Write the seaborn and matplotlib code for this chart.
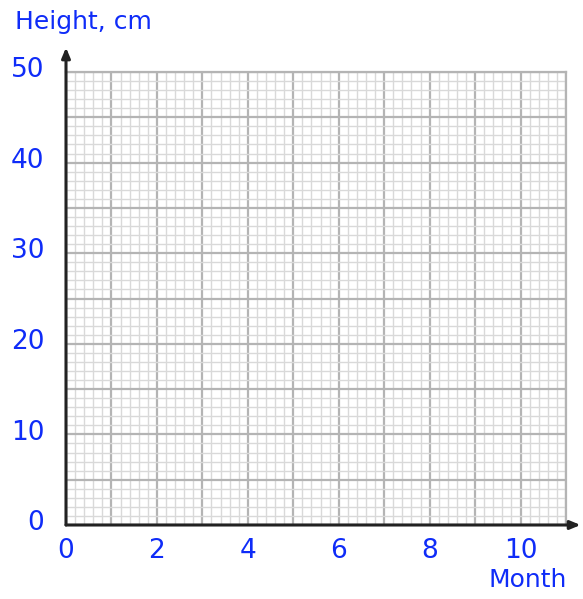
import matplotlib
matplotlib.use("Agg")
import matplotlib.pyplot as plt
import numpy as np
import seaborn as sns

# chart content: an empty grid for plotting height against month
month_ticks = [0, 2, 4, 6, 8, 10]
height_ticks = [0, 10, 20, 30, 40, 50]
month_max = 11
height_max = 50
months = []
heights = []

BLUE = "#0f2cf8"

sns.set_style("white")
plt.rcParams["font.family"] = ["DejaVu Sans"]

fig = plt.figure(figsize=(5.83, 5.99), dpi=100)
ax = fig.add_axes([66 / 583, 1 - 525 / 599, 500 / 583, 453 / 599])

sns.lineplot(x=months, y=heights, ax=ax)

ax.set_xlim(0, month_max)
ax.set_ylim(0, height_max)

# grid
ax.set_xticks(np.arange(0, month_max + 0.01, 1))
ax.set_xticks(np.arange(0, month_max + 0.01, 0.2), minor=True)
ax.set_yticks(np.arange(0, height_max + 0.01, 5))
ax.set_yticks(np.arange(0, height_max + 0.01, 1), minor=True)
ax.grid(which="minor", color="#d9d9d9", linewidth=1.0)
ax.grid(which="major", color="#b4b4b4", linewidth=1.6)
ax.set_axisbelow(True)
ax.tick_params(which="both", length=0, labelbottom=False, labelleft=False)

for side in ["top", "right"]:
    ax.spines[side].set_color("#b4b4b4")
    ax.spines[side].set_linewidth(1.6)
for side in ["left", "bottom"]:
    ax.spines[side].set_visible(False)

# axes with arrows
arrow = dict(arrowstyle="-|>,head_length=0.6,head_width=0.25", color="#222222", lw=2.2,
             shrinkA=0, shrinkB=0)
ax.annotate("", xy=(month_max + 0.32, 0), xytext=(0, 0), arrowprops=arrow,
            annotation_clip=False)
ax.annotate("", xy=(0, height_max + 2.7), xytext=(0, 0), arrowprops=arrow,
            annotation_clip=False)

# tick labels
for m in month_ticks:
    ax.text(m, -1.4, str(m), color=BLUE, fontsize=19, ha="center", va="top")
for h in height_ticks:
    ax.text(-0.48, h + 0.2, str(h), color=BLUE, fontsize=19, ha="right", va="center")

ax.text(1.002, -0.095, "Month", transform=ax.transAxes, color=BLUE, fontsize=18,
        ha="right", va="top")
fig.text(15 / 583, 1 - 22 / 599, "Height, cm", color=BLUE, fontsize=18,
         ha="left", va="center")

fig.savefig("out.png", dpi=100)
